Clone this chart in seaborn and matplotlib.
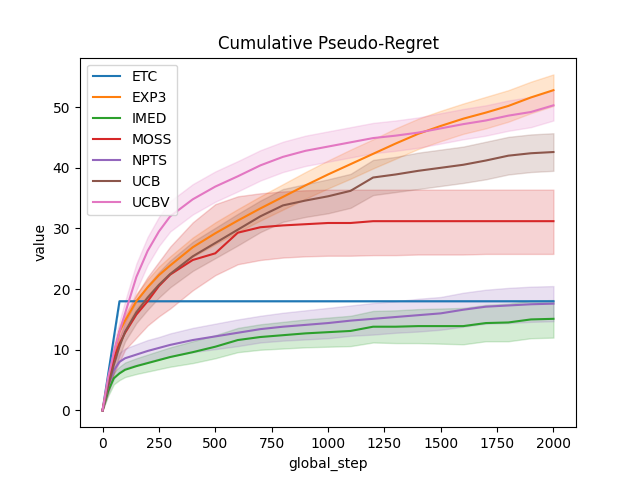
import numpy as np
import pandas as pd
import seaborn as sns
import matplotlib
matplotlib.use("Agg")
import matplotlib.pyplot as plt

steps = [0, 25, 50, 75, 100, 150, 200, 250, 300, 400, 500, 600, 700, 800, 900,
         1000, 1100, 1200, 1300, 1400, 1500, 1600, 1700, 1800, 1900, 2000]

etc_mean = [0, 6, 12, 18, 18, 18, 18, 18, 18, 18, 18, 18, 18, 18, 18,
            18, 18, 18, 18, 18, 18, 18, 18, 18, 18, 18]
etc_spread = [0] * 26

exp3_mean = [0, 5, 9, 13, 14.8, 18, 20.3, 22.3, 23.9, 26.9, 29.2, 31.3, 33.3, 35.2, 37.1,
             38.9, 40.6, 42.3, 44, 45.6, 46.9, 48.1, 49.1, 50.2, 51.6, 52.8]
exp3_spread = [0, 0.6, 0.9, 1, 1.1, 1.2, 1.3, 1.4, 1.5, 1.6, 1.8, 1.9, 2, 2.1, 2.2,
               2.3, 2.4, 2.4, 2.5, 2.5, 2.5, 2.5, 2.6, 2.6, 2.6, 2.6]

imed_mean = [0, 3.2, 5.3, 6.1, 6.7, 7.3, 7.8, 8.3, 8.8, 9.6, 10.5, 11.6, 12.1, 12.4, 12.7,
             12.9, 13.1, 13.8, 13.8, 13.9, 13.9, 13.9, 14.4, 14.5, 15, 15.1]
imed_spread = [0, 0.8, 1, 1.1, 1.2, 1.3, 1.4, 1.5, 1.6, 1.8, 1.9, 2, 2.1, 2.2, 2.3,
               2.4, 2.5, 2.6, 2.7, 2.8, 2.9, 3, 3, 3.1, 3.1, 3.1]

moss_mean = [0, 4.5, 8.5, 11, 12.8, 15.8, 18, 20.5, 22.4, 24.8, 25.9, 29.3, 30.2, 30.5, 30.7,
             30.9, 30.9, 31.2, 31.2, 31.2, 31.2, 31.2, 31.2, 31.2, 31.2, 31.2]
moss_lo = [0, 3, 6, 8, 10, 12, 14, 15.5, 16.8, 19.8, 22.3, 24.1, 24.8, 25.2, 25.4,
           25.5, 25.5, 25.6, 25.6, 25.7, 25.7, 25.7, 25.8, 25.8, 25.8, 25.8]
moss_hi = [0, 6, 10.5, 13.5, 15.5, 19, 22, 24.5, 27, 31, 34, 35.3, 35.8, 36.1, 36.3,
           36.4, 36.4, 36.4, 36.4, 36.4, 36.4, 36.4, 36.4, 36.4, 36.4, 36.4]

npts_mean = [0, 4, 6.6, 8, 8.6, 9.2, 9.8, 10.3, 10.8, 11.6, 12.2, 12.8, 13.4, 13.8, 14.1,
             14.4, 14.8, 15.1, 15.4, 15.7, 16, 16.6, 17.1, 17.3, 17.5, 17.6]
npts_spread = [0, 1.2, 1.4, 1.5, 1.6, 1.7, 1.8, 1.8, 1.9, 2, 2.1, 2.2, 2.2, 2.3, 2.4,
               2.5, 2.5, 2.6, 2.6, 2.7, 2.7, 2.8, 2.8, 2.9, 2.9, 2.9]

ucb_mean = [0, 4, 7.5, 10.5, 13, 16.2, 18.6, 20.7, 22.5, 25.4, 27.6, 29.8, 32, 33.8, 34.6,
            35.3, 36.2, 38.4, 38.9, 39.5, 40, 40.5, 41.2, 42, 42.4, 42.6]
ucb_spread = [0, 1, 1.3, 1.5, 1.6, 1.8, 2, 2.1, 2.2, 2.4, 2.5, 2.6, 2.6, 2.7, 2.7,
              2.8, 2.8, 2.9, 2.9, 3, 3, 3, 3.1, 3.1, 3.1, 3.1]

ucbv_mean = [0, 5.5, 9.5, 13, 16, 22, 26.3, 29.5, 32, 34.8, 36.9, 38.6, 40.4, 41.8, 42.8,
             43.5, 44.2, 44.9, 45.3, 45.8, 46.5, 47.2, 47.8, 48.6, 49.2, 50.3]
ucbv_spread = [0, 0.9, 1.4, 1.7, 2, 2.2, 2.3, 2.4, 2.5, 2.5, 2.5, 2.5, 2.5, 2.5, 2.5,
               2.5, 2.5, 2.5, 2.5, 2.5, 2.5, 2.5, 2.5, 2.5, 2.5, 2.5]

# (name, mean, lower, upper)
series = [
    ("ETC", etc_mean, np.subtract(etc_mean, etc_spread), np.add(etc_mean, etc_spread)),
    ("EXP3", exp3_mean, np.subtract(exp3_mean, exp3_spread), np.add(exp3_mean, exp3_spread)),
    ("IMED", imed_mean, np.subtract(imed_mean, imed_spread), np.add(imed_mean, imed_spread)),
    ("MOSS", moss_mean, moss_lo, moss_hi),
    ("NPTS", npts_mean, np.subtract(npts_mean, npts_spread), np.add(npts_mean, npts_spread)),
    ("UCB", ucb_mean, np.subtract(ucb_mean, ucb_spread), np.add(ucb_mean, ucb_spread)),
    ("UCBV", ucbv_mean, np.subtract(ucbv_mean, ucbv_spread), np.add(ucbv_mean, ucbv_spread)),
]

# long table: lower / mean / upper rows, seaborn takes median + min-max band
rows = []
for name, mean, lo, hi in series:
    for i, s in enumerate(steps):
        for v in (lo[i], mean[i], hi[i]):
            rows.append({"global_step": s, "value": float(v), "algo": name})
df = pd.DataFrame(rows)

fig, ax = plt.subplots(figsize=(6.4, 4.8), dpi=100)
sns.lineplot(data=df, x="global_step", y="value", hue="algo",
             estimator="median", errorbar=("pi", 100), ax=ax)

handles, labels = ax.get_legend_handles_labels()
ax.legend(handles, labels, loc="upper left")
ax.set_title("Cumulative Pseudo-Regret")
ax.set_xlabel("global_step")
ax.set_ylabel("value")

plt.savefig("out.png")
